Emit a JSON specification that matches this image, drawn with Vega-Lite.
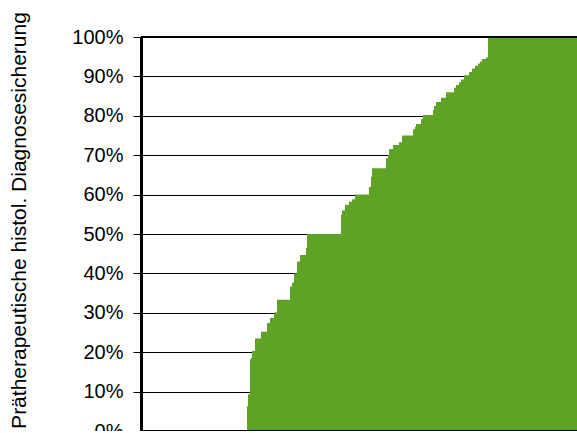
{
  "$schema": "https://vega.github.io/schema/vega-lite/v6.json",
  "width": 440,
  "height": 394,
  "autosize": "none",
  "padding": {"left": 141, "top": 37, "right": 0, "bottom": 0},
  "background": "white",
  "config": {"view": {"stroke": null}, "font": "Liberation Sans"},
  "data": {"values": [
    {"rank_start": 0, "rank_end": 106, "value": 0},
    {"rank_start": 106, "rank_end": 107, "value": 6.3},
    {"rank_start": 107, "rank_end": 109, "value": 9.3},
    {"rank_start": 109, "rank_end": 110, "value": 18.2},
    {"rank_start": 110, "rank_end": 111, "value": 18.6},
    {"rank_start": 111, "rank_end": 114, "value": 20.3},
    {"rank_start": 114, "rank_end": 120, "value": 23.5},
    {"rank_start": 120, "rank_end": 126, "value": 25.2},
    {"rank_start": 126, "rank_end": 129, "value": 27.4},
    {"rank_start": 129, "rank_end": 133, "value": 28.7},
    {"rank_start": 133, "rank_end": 136, "value": 30.1},
    {"rank_start": 136, "rank_end": 149, "value": 33.3},
    {"rank_start": 149, "rank_end": 151, "value": 36.7},
    {"rank_start": 151, "rank_end": 153, "value": 37.7},
    {"rank_start": 153, "rank_end": 156, "value": 40},
    {"rank_start": 156, "rank_end": 159, "value": 43},
    {"rank_start": 159, "rank_end": 165, "value": 44.7},
    {"rank_start": 165, "rank_end": 166, "value": 46.5},
    {"rank_start": 166, "rank_end": 200, "value": 50},
    {"rank_start": 200, "rank_end": 201, "value": 54.9},
    {"rank_start": 201, "rank_end": 204, "value": 56},
    {"rank_start": 204, "rank_end": 208, "value": 57.4},
    {"rank_start": 208, "rank_end": 211, "value": 58.2},
    {"rank_start": 211, "rank_end": 214, "value": 58.8},
    {"rank_start": 214, "rank_end": 228, "value": 60},
    {"rank_start": 228, "rank_end": 230, "value": 61.9},
    {"rank_start": 230, "rank_end": 231, "value": 64.5},
    {"rank_start": 231, "rank_end": 245, "value": 66.7},
    {"rank_start": 245, "rank_end": 247, "value": 69.2},
    {"rank_start": 247, "rank_end": 248, "value": 70},
    {"rank_start": 248, "rank_end": 252, "value": 71.6},
    {"rank_start": 252, "rank_end": 258, "value": 72.6},
    {"rank_start": 258, "rank_end": 261, "value": 73.3},
    {"rank_start": 261, "rank_end": 272, "value": 75},
    {"rank_start": 272, "rank_end": 274, "value": 76.6},
    {"rank_start": 274, "rank_end": 275, "value": 77.2},
    {"rank_start": 275, "rank_end": 280, "value": 77.9},
    {"rank_start": 280, "rank_end": 282, "value": 79.2},
    {"rank_start": 282, "rank_end": 292, "value": 80.2},
    {"rank_start": 292, "rank_end": 293, "value": 81.5},
    {"rank_start": 293, "rank_end": 295, "value": 82.5},
    {"rank_start": 295, "rank_end": 300, "value": 83.5},
    {"rank_start": 300, "rank_end": 305, "value": 84.6},
    {"rank_start": 305, "rank_end": 313, "value": 86},
    {"rank_start": 313, "rank_end": 315, "value": 87.1},
    {"rank_start": 315, "rank_end": 318, "value": 87.8},
    {"rank_start": 318, "rank_end": 320, "value": 88.5},
    {"rank_start": 320, "rank_end": 323, "value": 89.2},
    {"rank_start": 323, "rank_end": 328, "value": 90.3},
    {"rank_start": 328, "rank_end": 331, "value": 91.1},
    {"rank_start": 331, "rank_end": 334, "value": 92},
    {"rank_start": 334, "rank_end": 337, "value": 92.7},
    {"rank_start": 337, "rank_end": 339, "value": 93.3},
    {"rank_start": 339, "rank_end": 341, "value": 93.8},
    {"rank_start": 341, "rank_end": 345, "value": 94.4},
    {"rank_start": 345, "rank_end": 347, "value": 94.8},
    {"rank_start": 347, "rank_end": 440, "value": 100}
  ]},
  "encoding": {
    "y": {
      "field": "value",
      "type": "quantitative",
      "scale": {"domain": [0, 100], "nice": false},
      "axis": {
        "values": [0, 10, 20, 30, 40, 50, 60, 70, 80, 90, 100],
        "labelExpr": "datum.value + '%'",
        "labelFont": "Liberation Sans",
        "labelFontSize": 20,
        "labelColor": "black",
        "labelPadding": 10,
        "labelOverlap": false,
        "tickColor": "black",
        "tickSize": 8,
        "tickWidth": 1,
        "domainColor": "black",
        "domainWidth": 3,
        "grid": true,
        "gridColor": "black",
        "gridWidth": 1,
        "gridOpacity": 1,
        "title": "Prätherapeutische histol. Diagnosesicherung",
        "titleFont": "Liberation Sans",
        "titleFontSize": 21,
        "titleFontWeight": "normal",
        "titleColor": "black",
        "titleAngle": -90,
        "titleAlign": "center",
        "titleBaseline": "alphabetic",
        "titleX": -116,
        "titleY": 183
      }
    }
  },
  "layer": [
    {
      "mark": {"type": "rect", "color": "#5ea226"},
      "encoding": {
        "x": {"field": "rank_start", "type": "quantitative", "scale": {"domain": [0, 440], "nice": false, "zero": false}, "axis": null},
        "x2": {"field": "rank_end"},
        "y2": {"datum": 0}
      }
    },
    {
      "mark": {"type": "rule", "color": "black", "strokeWidth": 2},
      "encoding": {"y": {"datum": 100, "type": "quantitative"}}
    },
    {
      "mark": {"type": "rule", "color": "black", "strokeWidth": 2},
      "encoding": {"y": {"datum": 0, "type": "quantitative"}}
    }
  ]
}
